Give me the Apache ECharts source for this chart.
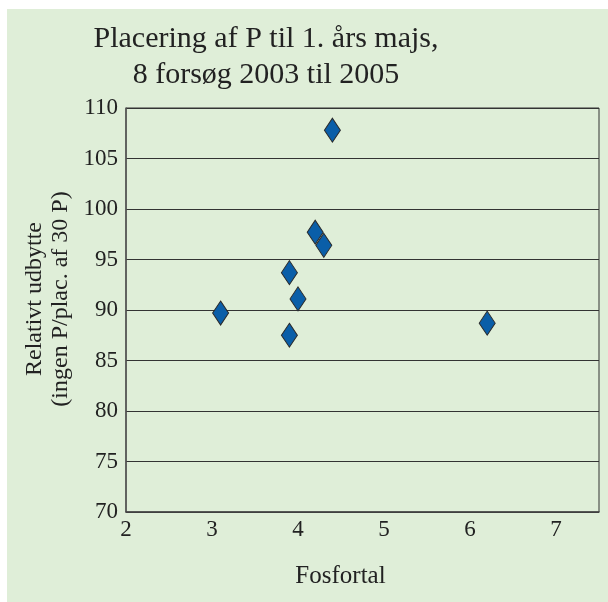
<!DOCTYPE html>
<html>
<head>
<meta charset="utf-8">
<script src="https://cdn.jsdelivr.net/npm/echarts@6/dist/echarts.min.js"></script>
<style>html,body{margin:0;padding:0;background:#fff}#c{width:608px;height:602px}</style>
</head>
<body>
<div id="c"></div>
<script>
const titleLines = ['Placering af P til 1. års majs,', '8 forsøg 2003 til 2005'];
const xName = 'Fosfortal';
const yNameLines = ['Relativt udbytte', '(ingen P/plac. af 30 P)'];
const fosfortal = [4.4, 4.2, 4.3, 3.9, 4.0, 3.1, 3.9, 6.2];
const udbytte = [107.8, 97.7, 96.4, 93.7, 91.1, 89.7, 87.5, 88.7];
const xTicks = [2, 3, 4, 5, 6, 7];
const yTicks = [70, 75, 80, 85, 90, 95, 100, 105, 110];

const font = '"Liberation Serif", "Times New Roman", serif';
const chart = echarts.init(document.getElementById('c'), null, {renderer: 'canvas'});
chart.setOption({
  animation: false,
  backgroundColor: '#ffffff',
  graphic: [
    {type: 'rect', z: -10, shape: {x: 7, y: 9, width: 601, height: 593}, style: {fill: '#dfeed8'}, silent: true},
    {type: 'text', x: 48, y: 299, rotation: Math.PI / 2, z: 10,
      style: {text: yNameLines.join('\n'), font: '24px ' + font, fill: '#222', align: 'center', verticalAlign: 'middle', lineHeight: 26}}
  ],
  title: {
    text: titleLines.join('\n'),
    left: 261, textAlign: 'center', top: 16,
    textStyle: {fontFamily: font, fontSize: 30, fontWeight: 'normal', color: '#222', lineHeight: 36}
  },
  grid: {left: 126, top: 108, right: 9, bottom: 90, show: true, borderColor: '#333', borderWidth: 1, backgroundColor: 'transparent'},
  xAxis: {
    type: 'value', min: 2, max: 7.5, interval: 1,
    name: xName, nameLocation: 'middle', nameGap: 52,
    nameTextStyle: {fontFamily: font, fontSize: 25, color: '#222', padding: [0, 44, 0, 0]},
    axisLine: {lineStyle: {color: '#444', width: 1.5}},
    axisTick: {show: false},
    splitLine: {show: false},
    axisLabel: {fontFamily: font, fontSize: 23, color: '#222', margin: 6,
      formatter: v => xTicks.includes(v) ? String(v) : ''}
  },
  yAxis: {
    type: 'value', min: 70, max: 110, interval: 5,
    axisLine: {show: true, lineStyle: {color: '#555', width: 1.5}},
    axisTick: {show: false},
    splitLine: {show: true, lineStyle: {color: '#333', width: 1}},
    axisLabel: {fontFamily: font, fontSize: 23, color: '#222', margin: 8,
      formatter: v => yTicks.includes(v) ? String(v) : ''}
  },
  series: [{
    type: 'scatter',
    data: fosfortal.map((x, i) => [x, udbytte[i]]),
    symbol: 'diamond',
    symbolSize: [16, 24],
    itemStyle: {color: '#0a5ea8', borderColor: '#2a2a2a', borderWidth: 1, opacity: 1}
  }]
});
</script>
</body>
</html>
